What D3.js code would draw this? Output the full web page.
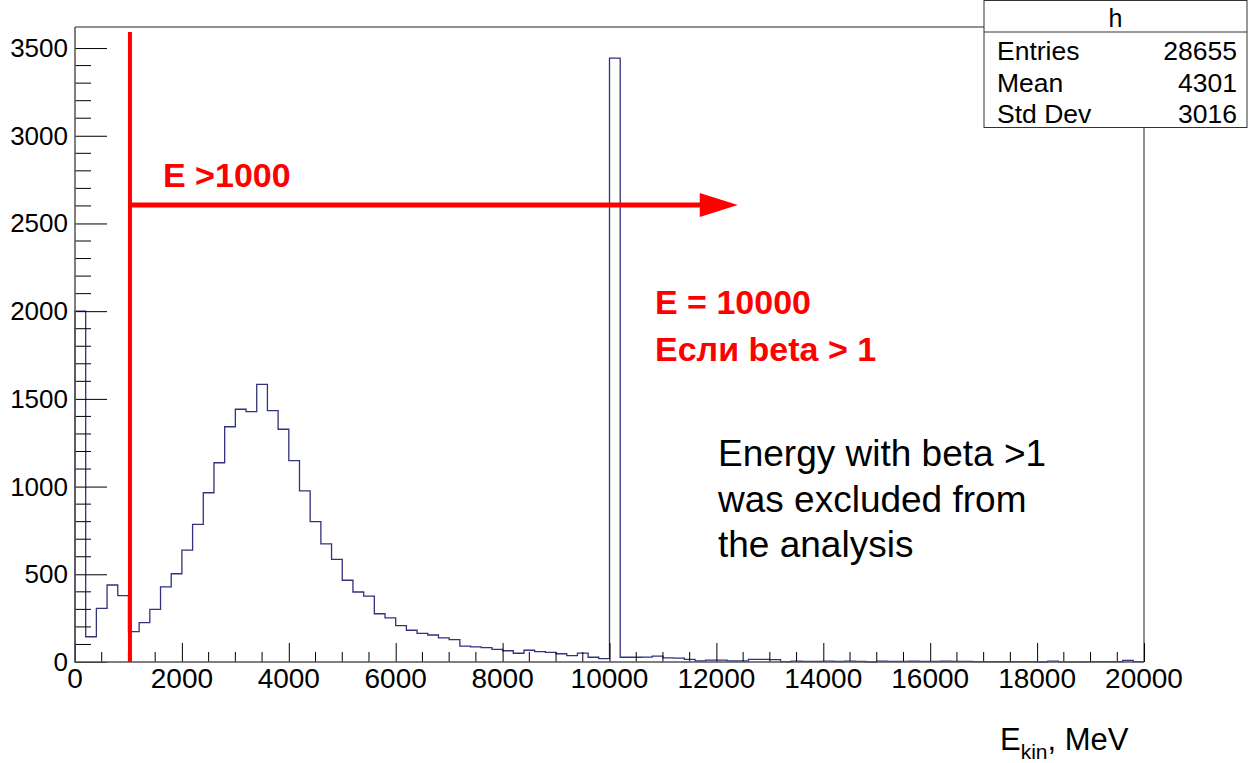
<!DOCTYPE html>
<html>
<head>
<meta charset="utf-8">
<script src="https://cdn.jsdelivr.net/npm/d3@7"></script>
<style>
html,body{margin:0;padding:0;background:#fff;}
svg{display:block;font-family:"Liberation Sans",Arial,sans-serif;}
</style>
</head>
<body>
<svg id="c" width="1249" height="763"></svg>
<script>
// ---- data ----
const binLow = 0;
const binWidth = 200;
const counts = [
  2000, 144, 306, 439, 378, 173, 224, 300, 428, 503,
  638, 785, 965, 1136, 1341, 1441, 1427, 1583, 1433, 1327,
  1148, 975, 800, 673, 585, 466, 399, 376, 275, 251,
  207, 181, 163, 154, 137, 128, 91, 86, 82, 72,
  64, 50, 67, 59, 55, 47, 36, 51, 27, 19,
  3443, 27, 27, 28, 34, 23, 22, 15, 6, 11,
  11, 6, 6, 15, 15, 14, 2, 5, 3, 4,
  5, 3, 5, 4, 0, 5, 4, 3, 5, 4,
  3, 5, 4, 3, 2, 2, 2, 2, 2, 2,
  0, 5, 1, 1, 1, 2, 2, 2, 9, 2
];
const xTicks = [0, 2000, 4000, 6000, 8000, 10000, 12000, 14000, 16000, 18000, 20000];
const yTicks = [0, 500, 1000, 1500, 2000, 2500, 3000, 3500];
const xDomain = [0, 20000];
const yDomain = [0, 3620];
const statsTitle = "h";
const statsLabels = ["Entries", "Mean", "Std Dev"];
const statsValues = ["28655", "4301", "3016"];
const cutValue = 1000;
const arrowEnd = 12400;
const cutLabel = "E >1000";
const peakLabels = ["E = 10000", "Если beta > 1"];
const noteLines = ["Energy with beta >1", "was excluded from", "the analysis"];

// ---- layout ----
const L = 75, R = 1144, T = 27, B = 662;
const svg = d3.select("#c");
const x = d3.scaleLinear().domain(xDomain).range([L, R]);
const y = d3.scaleLinear().domain(yDomain).range([B, T]);
const axisCol = "#222";

// frame (top & right)
svg.append("path")
  .attr("d", `M${L},${T}H${R}V${B}`)
  .attr("fill", "none").attr("stroke", axisCol).attr("stroke-width", 1);

// histogram step outline
const pts = [];
pts.push([x(binLow), y(0)]);
counts.forEach((c, i) => {
  const x0 = x(binLow + i * binWidth), x1 = x(binLow + (i + 1) * binWidth);
  pts.push([x0, y(c)]);
  pts.push([x1, y(c)]);
});
pts.push([x(binLow + counts.length * binWidth), y(0)]);
svg.append("path")
  .attr("d", d3.line()(pts))
  .attr("fill", "none").attr("stroke", "#32327e").attr("stroke-width", 1.3);

// y axis
const yAxis = d3.axisRight(y).tickValues(yTicks).tickSize(32).tickFormat("");
const gy = svg.append("g").attr("transform", `translate(${L},0)`).call(yAxis);
gy.select(".domain").remove();
gy.selectAll(".tick line").attr("stroke", "#000");
const yMinor = d3.range(100, 3600, 100).filter(v => v % 500 !== 0);
svg.append("g").selectAll("line").data(yMinor).join("line")
  .attr("x1", L).attr("x2", L + 16)
  .attr("y1", d => y(d)).attr("y2", d => y(d))
  .attr("stroke", "#000");
svg.append("g").selectAll("text").data(yTicks).join("text")
  .attr("x", 68).attr("y", d => y(d) + 9)
  .attr("text-anchor", "end").attr("font-size", 26).attr("fill", "#000")
  .text(d => d);

// x axis
const xAxis = d3.axisTop(x).tickValues(xTicks).tickSize(19).tickFormat("");
const gx = svg.append("g").attr("transform", `translate(0,${B})`).call(xAxis);
gx.select(".domain").remove();
gx.selectAll(".tick line").attr("stroke", "#000");
const xMinor = d3.range(500, 20000, 500).filter(v => v % 2000 !== 0);
svg.append("g").selectAll("line").data(xMinor).join("line")
  .attr("x1", d => x(d)).attr("x2", d => x(d))
  .attr("y1", B).attr("y2", B - 10)
  .attr("stroke", "#000");
svg.append("g").selectAll("text").data(xTicks).join("text")
  .attr("x", d => x(d)).attr("y", 688)
  .attr("text-anchor", "middle").attr("font-size", 28).attr("fill", "#000")
  .text(d => d);

// axis lines
svg.append("path").attr("d", `M${L},${T}V${B}H${R}`)
  .attr("fill", "none").attr("stroke", "#555").attr("stroke-width", 1.5);

// axis title
const at = svg.append("text").attr("x", 1000).attr("y", 750).attr("font-size", 31).attr("fill", "#000");
at.append("tspan").text("E");
at.append("tspan").attr("font-size", 21).attr("dy", 9).text("kin");
at.append("tspan").attr("dy", -9).text(", MeV");

// stats box
const sx = 984, sw = 263, sh = 127;
svg.append("rect").attr("x", sx).attr("y", 0.5).attr("width", sw).attr("height", sh)
  .attr("fill", "#fff").attr("stroke", "#333").attr("stroke-width", 1);
svg.append("line").attr("x1", sx).attr("x2", sx + sw).attr("y1", 32).attr("y2", 32)
  .attr("stroke", "#333");
svg.append("text").attr("x", sx + sw / 2).attr("y", 27).attr("text-anchor", "middle")
  .attr("font-size", 25).text(statsTitle);
statsLabels.forEach((s, i) => {
  svg.append("text").attr("x", 997).attr("y", 60 + i * 31.5).attr("font-size", 26.5).text(s);
  svg.append("text").attr("x", 1237).attr("y", 60 + i * 31.5).attr("font-size", 26.5)
    .attr("text-anchor", "end").text(statsValues[i]);
});

// red annotations
const red = "#ff0000";
svg.append("line").attr("x1", x(cutValue) + 1.5).attr("x2", x(cutValue) + 1.5)
  .attr("y1", 32).attr("y2", B).attr("stroke", red).attr("stroke-width", 4);
const ay = 205;
svg.append("line").attr("x1", x(cutValue)).attr("x2", x(arrowEnd) - 36)
  .attr("y1", ay).attr("y2", ay).attr("stroke", red).attr("stroke-width", 5);
svg.append("path")
  .attr("d", `M${x(arrowEnd) - 38},${ay - 12}L${x(arrowEnd)},${ay}L${x(arrowEnd) - 38},${ay + 12}Z`)
  .attr("fill", red);
svg.append("text").attr("x", 163).attr("y", 187).attr("font-size", 34)
  .attr("font-weight", "bold").attr("fill", red).text(cutLabel);
peakLabels.forEach((s, i) => {
  svg.append("text").attr("x", 655).attr("y", 314 + i * 47).attr("font-size", 34)
    .attr("font-weight", "bold").attr("fill", red).text(s);
});

// black note
noteLines.forEach((s, i) => {
  svg.append("text").attr("x", 718).attr("y", 466 + i * 45.5).attr("font-size", 37)
    .attr("fill", "#000").text(s);
});
</script>
</body>
</html>
